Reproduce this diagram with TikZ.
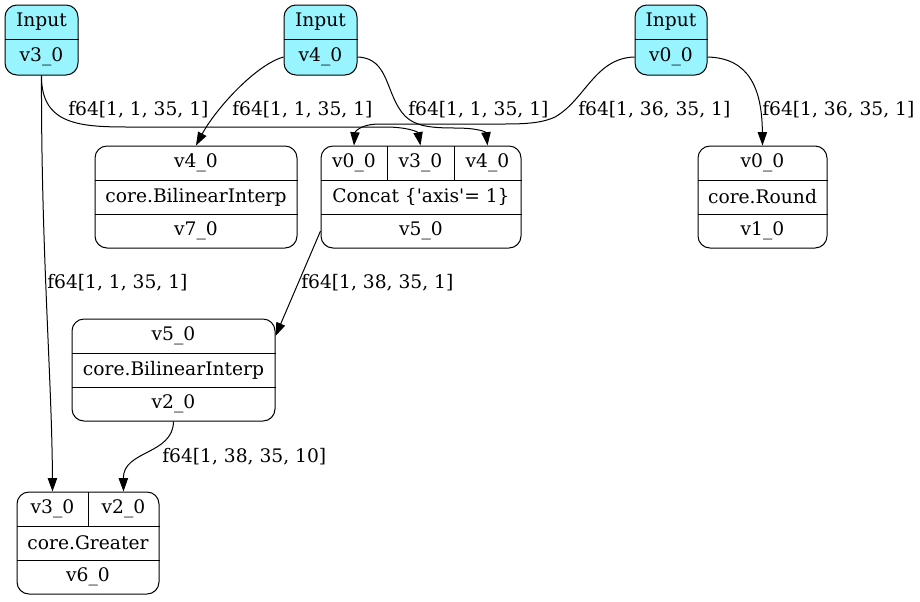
\documentclass[tikz,border=0pt]{standalone}
\usepackage{fontspec}
\setmainfont{DejaVu Serif}[Ligatures=TeXOff]
\usetikzlibrary{arrows.meta,fit,calc}
\definecolor{inputcyan}{HTML}{98F5FF}
\tikzset{
  recbox/.style={draw, line width=0.75pt, rounded corners=9pt, inner sep=0pt, minimum size=0pt},
  inbox/.style={recbox, fill=inputcyan},
  txt/.style={inner sep=0pt, font=\fontsize{14}{16}\selectfont},
  lab/.style={txt, anchor=west},
  divl/.style={line width=0.75pt},
  edge/.style={line width=0.75pt, -{Triangle[length=10pt,width=7pt]}},
}
\begin{document}
\begin{tikzpicture}[x=0.75pt,y=-0.75pt]
\useasboundingbox (0,0) rectangle (920,601);

% ---- Input boxes ----
\node[inbox, fit={(5,5) (78,75)}] (in3) {};
\node[inbox, fit={(284,5) (357,75)}] (in4) {};
\node[inbox, fit={(635,5) (707,75)}] (in0) {};
\foreach \n in {in3,in4,in0} {\draw[divl] (\n.west |- 0,39.5) -- (\n.east |- 0,39.5);}
\node[txt] (in3a) at (41.5,22) {Input};
\node[txt] (in3b) at (41.5,57) {v3\_0};
\node[txt] (in4a) at (320.5,22) {Input};
\node[txt] (in4b) at (320.5,57) {v4\_0};
\node[txt] (in0a) at (671,22) {Input};
\node[txt] (in0b) at (671,57) {v0\_0};

% ---- v7 BilinearInterp ----
\node[recbox, fit={(95,146) (297,248)}] (n7) {};
\draw[divl] (n7.west |- 0,180) -- (n7.east |- 0,180);
\draw[divl] (n7.west |- 0,214) -- (n7.east |- 0,214);
\node[txt] (n7a) at (196,163) {v4\_0};
\node[txt] (n7b) at (196,197) {core.BilinearInterp};
\node[txt] (n7c) at (196,231) {v7\_0};

% ---- Concat ----
\node[recbox, fit={(321,146) (521,248)}] (n5) {};
\draw[divl] (n5.west |- 0,180) -- (n5.east |- 0,180);
\draw[divl] (n5.west |- 0,214) -- (n5.east |- 0,214);
\draw[divl] (387,146) -- (387,180);
\draw[divl] (454,146) -- (454,180);
\node[txt] (c0) at (354,163) {v0\_0};
\node[txt] (c3) at (420.5,163) {v3\_0};
\node[txt] (c4) at (487.5,163) {v4\_0};
\node[txt] (n5b) at (421,197) {Concat \{'axis'= 1\}};
\node[txt] (n5c) at (421,231) {v5\_0};

% ---- Round ----
\node[recbox, fit={(698,146) (827,248)}] (n1) {};
\draw[divl] (n1.west |- 0,180) -- (n1.east |- 0,180);
\draw[divl] (n1.west |- 0,214) -- (n1.east |- 0,214);
\node[txt] (n1a) at (762.5,163) {v0\_0};
\node[txt] (n1b) at (762.5,197) {core.Round};
\node[txt] (n1c) at (762.5,231) {v1\_0};

% ---- v2 BilinearInterp ----
\node[recbox, fit={(72,319) (275,421)}] (n2) {};
\draw[divl] (n2.west |- 0,353) -- (n2.east |- 0,353);
\draw[divl] (n2.west |- 0,387) -- (n2.east |- 0,387);
\node[txt] (n2a) at (173.5,336) {v5\_0};
\node[txt] (n2b) at (173.5,370) {core.BilinearInterp};
\node[txt] (n2c) at (173.5,404) {v2\_0};

% ---- Greater ----
\node[recbox, fit={(17,492) (159,594)}] (n6) {};
\draw[divl] (n6.west |- 0,526) -- (n6.east |- 0,526);
\draw[divl] (n6.west |- 0,560) -- (n6.east |- 0,560);
\draw[divl] (88,492) -- (88,526);
\node[txt] (g3) at (52.5,509) {v3\_0};
\node[txt] (g2) at (123.5,509) {v2\_0};
\node[txt] (n6b) at (88,543) {core.Greater};
\node[txt] (n6c) at (88,577) {v6\_0};

% ---- Edges ----
\draw[edge] (in3.south) .. controls (41,250) and (52,380) .. (g3 |- n6.north);
\draw[edge] (in3.south) .. controls (41,125) and (80,127) .. (130,127) -- (385,127) .. controls (408,127) and (418,132) .. (c3 |- n5.north);
\draw[edge] (in4.west |- in4b) .. controls (255,65) and (215,110) .. (n7.north);
\draw[edge] (in4.east |- in4b) .. controls (390,58) and (385,95) .. (405,116) .. controls (415,126) and (430,128) .. (455,128) .. controls (478,128) and (486,132) .. (c4 |- n5.north);
\draw[edge] (in0.west |- in0b) .. controls (595,58) and (585,100) .. (555,117) .. controls (540,124) and (520,124) .. (500,124) -- (380,124) .. controls (360,124) and (355,132) .. (c0 |- n5.north);
\draw[edge] (in0.east |- in0b) .. controls (750,58) and (762,90) .. (n1.north);
\draw[edge] (n5.west |- n5c) -- (n2.east |- n2a);
\draw[edge] (n2.south) .. controls (173,455) and (123,450) .. (g2 |- n6.north);

% ---- Labels ----
\node[lab] (l1) at (47,283) {f64[1, 1, 35, 1]};
\node[lab] (l2) at (68,110) {f64[1, 1, 35, 1]};
\node[lab] (l3) at (232,110) {f64[1, 1, 35, 1]};
\node[lab] (l4) at (408,110) {f64[1, 1, 35, 1]};
\node[lab] (l5) at (578,110) {f64[1, 36, 35, 1]};
\node[lab] (l6) at (762,110) {f64[1, 36, 35, 1]};
\node[lab] (l7) at (301,283) {f64[1, 38, 35, 1]};
\node[lab] (l8) at (162,457) {f64[1, 38, 35, 10]};
\end{tikzpicture}
\end{document}
